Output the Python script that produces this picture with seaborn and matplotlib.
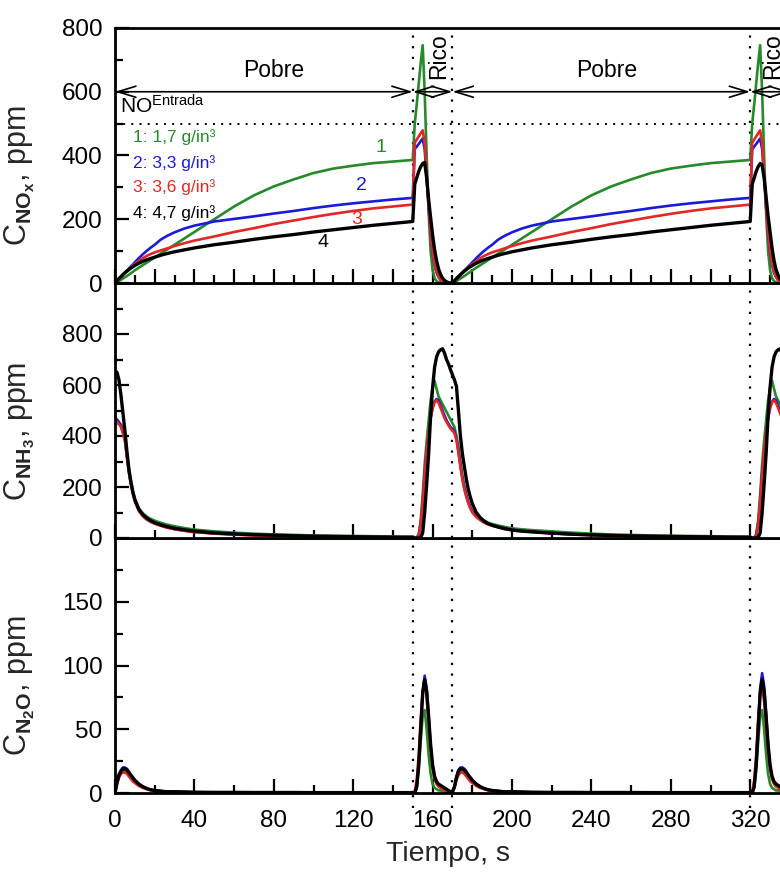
import numpy as np
import pandas as pd
import matplotlib
matplotlib.use("Agg")
import matplotlib.pyplot as plt
import seaborn as sns
from matplotlib.ticker import MultipleLocator, FixedLocator

# ---------------- data ----------------
tiempo = [0, 1, 2, 3, 4, 5, 6, 7, 8, 9, 10, 12, 14, 16, 18, 20, 23, 26, 30, 35, 40,
          50, 60, 70, 80, 90, 100, 110, 120, 130, 140, 150,
          151, 152, 153, 154, 155, 156, 157, 158, 159, 160, 161, 162, 163, 164, 165, 166, 167, 168, 169,
          170, 171, 172, 173, 174, 175, 176, 177, 178, 179, 180, 182, 184, 186, 188, 190, 193, 196, 200, 205, 210,
          220, 230, 240, 250, 260, 270, 280, 290, 300, 310, 320,
          321, 322, 323, 324, 325, 326, 327, 328, 329, 330, 331, 332, 333, 334, 335, 336]

cargas = ["1", "2", "3", "4"]
etiquetas = ["1: 1,7 g/in³", "2: 3,3 g/in³", "3: 3,6 g/in³", "4: 4,7 g/in³"]

# NOx, ppm
nox_1 = [0, 3, 6, 10, 14, 18, 22, 26, 31, 35, 40, 48, 56, 64, 72, 80, 92, 104, 120, 140, 160,
         200, 240, 275, 303, 325, 345, 359, 368, 376, 381, 386,
         500, 560, 625, 690, 746, 600, 400, 220, 100, 40, 15, 6, 2, 1, 0, 0, 0, 0, 0,
         0, 3, 6, 10, 14, 18, 22, 26, 31, 35, 40, 48, 56, 64, 72, 80, 92, 104, 120, 140, 160,
         200, 240, 275, 303, 325, 345, 359, 368, 376, 381, 386,
         500, 560, 625, 690, 746, 600, 400, 220, 100, 40, 15, 6, 2, 1, 0, 0]
nox_2 = [0, 7, 14, 20, 27, 33, 39, 45, 52, 58, 65, 78, 90, 101, 111, 120, 136, 147, 159, 171, 180,
         193, 201, 209, 218, 226, 235, 243, 250, 256, 262, 267,
         420, 428, 436, 445, 453, 420, 330, 235, 155, 95, 55, 32, 18, 9, 4, 2, 1, 0, 0,
         0, 7, 14, 20, 27, 33, 39, 45, 52, 58, 65, 78, 90, 101, 111, 120, 136, 147, 159, 171, 180,
         193, 201, 209, 218, 226, 235, 243, 250, 256, 262, 267,
         420, 428, 436, 445, 453, 420, 330, 235, 155, 95, 55, 32, 18, 9, 4, 2]
nox_3 = [0, 6, 13, 19, 26, 32, 38, 44, 49, 55, 60, 69, 78, 85, 91, 96, 102, 108, 116, 125, 133,
         146, 160, 172, 185, 196, 207, 217, 226, 234, 240, 246,
         440, 450, 460, 470, 479, 440, 340, 240, 160, 100, 60, 35, 20, 10, 5, 2, 1, 0, 0,
         0, 6, 13, 19, 26, 32, 38, 44, 49, 55, 60, 69, 78, 85, 91, 96, 102, 108, 116, 125, 133,
         146, 160, 172, 185, 196, 207, 217, 226, 234, 240, 246,
         440, 450, 460, 470, 479, 440, 340, 240, 160, 100, 60, 35, 20, 10, 5, 2]
nox_4 = [0, 7, 14, 20, 26, 32, 37, 42, 47, 51, 55, 62, 68, 73, 77, 81, 87, 92, 98, 104, 110,
         120, 128, 137, 145, 152, 160, 167, 174, 181, 187, 193,
         310, 330, 350, 365, 375, 378, 330, 262, 205, 150, 105, 70, 44, 27, 15, 8, 4, 1, 0,
         0, 7, 14, 20, 26, 32, 37, 42, 47, 51, 55, 62, 68, 73, 77, 81, 87, 92, 98, 104, 110,
         120, 128, 137, 145, 152, 160, 167, 174, 181, 187, 193,
         310, 330, 350, 365, 375, 369, 330, 270, 210, 160, 110, 70, 42, 25, 13, 7]

# NH3, ppm
nh3_1 = [450, 450, 449, 446, 420, 396, 330, 270, 225, 185, 155, 118, 97, 84, 75, 68, 60, 53, 46, 39, 33,
         26, 21, 17, 14, 12, 10, 9, 8, 7, 6, 5,
         0, 2, 15, 70, 170, 290, 380, 460, 540, 590, 617, 585, 555, 540, 525, 510, 495, 480, 465,
         450, 435, 400, 360, 300, 245, 205, 170, 140, 120, 105, 88, 77, 68, 60, 55, 49, 44, 38, 34, 31,
         26, 21, 17, 14, 12, 10, 9, 8, 7, 6, 5,
         0, 2, 15, 70, 170, 290, 380, 460, 540, 590, 617, 585, 555, 540, 525, 510]
nh3_2 = [470, 465, 455, 440, 415, 385, 320, 260, 215, 178, 148, 110, 88, 74, 64, 57, 49, 42, 35, 29, 24,
         18, 14, 11, 9, 7, 6, 5, 4, 3, 3, 2,
         0, 1, 10, 55, 140, 250, 340, 410, 470, 510, 535, 545, 539, 520, 500, 480, 462, 448, 435,
         428, 418, 390, 340, 285, 235, 195, 165, 140, 120, 104, 85, 72, 62, 55, 50, 44, 38, 33, 28, 25,
         19, 15, 12, 10, 8, 7, 6, 5, 4, 3, 3,
         0, 1, 10, 55, 140, 250, 340, 410, 470, 510, 535, 545, 539, 520, 500, 480]
nh3_3 = [460, 455, 447, 435, 410, 380, 315, 255, 210, 172, 143, 106, 85, 72, 63, 56, 48, 41, 34, 28, 23,
         17, 13, 10, 8, 6, 5, 4, 3, 3, 2, 2,
         0, 1, 10, 55, 140, 250, 340, 410, 470, 510, 532, 540, 530, 510, 490, 470, 455, 442, 430,
         422, 410, 385, 335, 280, 230, 190, 160, 136, 116, 100, 82, 70, 60, 53, 48, 42, 36, 31, 27, 24,
         18, 14, 11, 9, 7, 6, 5, 4, 4, 3, 3,
         0, 1, 10, 55, 140, 250, 340, 410, 470, 510, 532, 540, 530, 510, 490, 470]
nh3_4 = [655, 650, 620, 560, 490, 420, 340, 270, 220, 180, 150, 112, 92, 78, 68, 60, 52, 45, 38, 32, 27,
         20, 16, 13, 11, 9, 7, 6, 5, 4, 3, 3,
         0, 0, 0, 2, 20, 100, 210, 330, 480, 590, 670, 710, 730, 738, 742, 725, 700, 683, 660,
         640, 620, 595, 500, 400, 330, 280, 230, 190, 160, 135, 100, 80, 66, 56, 50, 43, 37, 31, 27, 24,
         19, 15, 12, 10, 8, 7, 6, 5, 4, 3, 3,
         0, 0, 0, 2, 20, 100, 210, 330, 480, 590, 670, 710, 730, 738, 742, 725]

# N2O, ppm
n2o_1 = [0, 8, 13, 16, 17, 17, 16, 14, 12, 10, 8, 6, 4.5, 3.5, 2.5, 2, 1.5, 1, 1, 0.8, 0.6,
         0.5, 0.5, 0.4, 0.4, 0.4, 0.3, 0.3, 0.3, 0.3, 0.3, 0.3,
         0, 4, 18, 40, 60, 65, 50, 30, 15, 7, 4, 3, 2, 2, 1.5, 1, 1, 1, 0.5,
         0.5, 4, 11, 15, 17, 17, 16, 14, 12, 10, 8, 6, 4.5, 3.5, 2.5, 2, 1.5, 1, 1, 0.8, 0.6,
         0.5, 0.5, 0.4, 0.4, 0.4, 0.3, 0.3, 0.3, 0.3, 0.3, 0.3,
         0, 4, 18, 40, 60, 65, 50, 30, 15, 7, 4, 3, 2, 2, 1.5, 1]
n2o_2 = [0, 9, 15, 18, 20, 20, 19, 17, 14, 12, 10, 7, 5, 3.5, 2.5, 2, 1.5, 1, 1, 0.8, 0.6,
         0.5, 0.5, 0.4, 0.4, 0.4, 0.3, 0.3, 0.3, 0.3, 0.3, 0.3,
         0, 5, 23, 52, 80, 92, 82, 60, 37, 21, 12, 8, 6, 5, 4, 3, 2, 1.5, 1,
         1, 5, 13, 18, 20, 20, 19, 17, 14, 12, 10, 7, 5, 3.5, 2.5, 2, 1.5, 1, 1, 0.8, 0.6,
         0.5, 0.5, 0.4, 0.4, 0.4, 0.3, 0.3, 0.3, 0.3, 0.3, 0.3,
         0, 5, 23, 54, 82, 94, 84, 62, 38, 21, 12, 8, 6, 5, 4, 3]
n2o_3 = [0, 7, 12, 15, 16, 16, 15, 13, 11, 9, 8, 5.5, 4, 3, 2, 1.5, 1, 0.8, 0.6, 0.5, 0.4,
         0.4, 0.3, 0.3, 0.3, 0.3, 0.2, 0.2, 0.2, 0.2, 0.2, 0.2,
         1, 10, 30, 58, 80, 85, 75, 54, 33, 19, 11, 7, 5, 4, 3, 2.5, 2, 1.5, 1,
         1, 4, 10, 14, 16, 16, 15, 13, 11, 9, 8, 5.5, 4, 3, 2, 1.5, 1, 0.8, 0.6, 0.5, 0.4,
         0.4, 0.3, 0.3, 0.3, 0.3, 0.2, 0.2, 0.2, 0.2, 0.2, 0.2,
         1, 10, 30, 58, 78, 82, 72, 52, 32, 19, 11, 7, 5, 4, 3, 2.5]
n2o_4 = [0, 8, 14, 17, 19, 19, 18, 16, 14, 12, 10, 7, 5, 3.5, 2.5, 2, 1.5, 1, 1, 0.8, 0.6,
         0.5, 0.5, 0.4, 0.4, 0.4, 0.3, 0.3, 0.3, 0.3, 0.3, 0.3,
         0, 5, 22, 50, 78, 89, 80, 60, 38, 22, 13, 9, 7, 6, 5, 4, 3, 2, 1,
         1, 5, 12, 17, 19, 19, 18, 16, 14, 12, 10, 7, 5, 3.5, 2.5, 2, 1.5, 1, 1, 0.8, 0.6,
         0.5, 0.5, 0.4, 0.4, 0.4, 0.3, 0.3, 0.3, 0.3, 0.3, 0.3,
         0, 5, 22, 50, 78, 89, 80, 60, 38, 22, 13, 9, 7, 6, 5, 4]

# phases
limites = [0, 150, 170, 320, 340]
fases = ["Pobre", "Rico", "Pobre", "Rico"]
no_entrada = 500

# ---------------- style ----------------
sns.set_theme(style="white")
plt.rcParams["font.family"] = ["Liberation Sans", "DejaVu Sans"]
plt.rcParams["mathtext.fontset"] = "custom"
plt.rcParams["mathtext.rm"] = "Liberation Sans"
plt.rcParams["mathtext.it"] = "Liberation Sans:italic"
plt.rcParams["mathtext.bf"] = "Liberation Sans:bold"
plt.rcParams["axes.linewidth"] = 2.0
plt.rcParams["axes.edgecolor"] = "black"
plt.rcParams["text.color"] = "black"
plt.rcParams["xtick.color"] = "black"
plt.rcParams["ytick.color"] = "black"

colores = {"1": "#268a2b", "2": "#1a1adb", "3": "#e32626", "4": "#000000"}
grosores = {"1": 1.9, "2": 1.9, "3": 1.9, "4": 2.4}

filas = []
series = {"NOx": [nox_1, nox_2, nox_3, nox_4],
          "NH3": [nh3_1, nh3_2, nh3_3, nh3_4],
          "N2O": [n2o_1, n2o_2, n2o_3, n2o_4]}
for i, c in enumerate(cargas):
    filas.append(pd.DataFrame({"Tiempo": tiempo,
                               "NOx": series["NOx"][i],
                               "NH3": series["NH3"][i],
                               "N2O": series["N2O"][i],
                               "Carga": c}))
df = pd.concat(filas, ignore_index=True)

W, H = 780, 873
fig = plt.figure(figsize=(W / 100, H / 100), dpi=100)
left = 115 / W
width = 1.0 - left
hpan = 255 / H
bot = 80 / H
ax3 = fig.add_axes([left, bot, width, hpan])
ax2 = fig.add_axes([left, bot + hpan, width, hpan])
ax1 = fig.add_axes([left, bot + 2 * hpan, width, hpan])

configs = [
    (ax1, "NOx", (0, 800), [0, 200, 400, 600, 800], 100, 20, 10, r"C$_{\mathbf{NO_x}}$, ppm"),
    (ax2, "NH3", (0, 1000), [0, 200, 400, 600, 800], 100, 40, 20, r"C$_{\mathbf{NH_3}}$, ppm"),
    (ax3, "N2O", (0, 200), [0, 50, 100, 150], 25, 40, 20, r"C$_{\mathbf{N_2O}}$, ppm"),
]

for ax, col, ylim, yt, ymin_, xmaj, xmin_, ylab in configs:
    # phase boundaries (dotted)
    for xb in limites[1:-1]:
        ax.axvline(xb, color="black", lw=1.6, linestyle=(0, (1, 3.8)), zorder=1)
    sns.lineplot(data=df, x="Tiempo", y=col, hue="Carga", hue_order=cargas,
                 palette=colores, size="Carga", sizes=grosores, size_order=cargas,
                 estimator=None, sort=False, legend=False, ax=ax, zorder=3)
    ax.set_xlim(0, 335)
    ax.set_ylim(*ylim)
    ax.yaxis.set_major_locator(FixedLocator(yt))
    ax.yaxis.set_minor_locator(MultipleLocator(ymin_))
    ax.xaxis.set_major_locator(MultipleLocator(xmaj))
    ax.xaxis.set_minor_locator(MultipleLocator(xmin_))
    ax.tick_params(which="both", direction="in", bottom=True, left=True, top=False, right=False,
                   width=1.6, labelsize=17.5, pad=9)
    ax.tick_params(which="major", length=10)
    ax.tick_params(which="minor", length=6)
    ax.spines["right"].set_visible(False)
    ax.set_ylabel(ylab, fontsize=22)
    ax.yaxis.set_label_coords(-0.118, 0.42)
    ax.set_xlabel("")
    for s in ax.spines.values():
        s.set_zorder(5)

ax1.tick_params(labelbottom=False)
ax2.tick_params(labelbottom=False)
ax3.set_xticks([0, 40, 80, 120, 160, 200, 240, 280, 320])
ax3.tick_params(axis="x", pad=12)
ax3.set_xlabel("Tiempo, s", fontsize=20.5, labelpad=7)

# dotted boundary extension below the bottom axis
ax3.vlines(limites[1:-1], -0.06, 0, transform=ax3.get_xaxis_transform(), clip_on=False,
           color="black", lw=1.6, linestyle=(0, (1, 3.8)))

# NO inlet level
ax1.axhline(no_entrada, color="black", lw=1.4, linestyle=(0, (1, 3.2)), zorder=1)
ax1.text(2.5, 532, r"NO$^{\mathrm{Entrada}}$", fontsize=15, ha="left", va="baseline")

# phase arrows and labels
fase_x = [80, 163, 247.5, 331.5]
for i, nombre in enumerate(fases):
    ax1.annotate("", xy=(limites[i], 600), xytext=(limites[i + 1], 600),
                 xycoords="data", annotation_clip=False,
                 arrowprops=dict(arrowstyle="<->,head_length=1.3,head_width=0.4",
                                 mutation_scale=10, lw=1.2, color="black",
                                 shrinkA=0, shrinkB=0))
    if nombre == "Pobre":
        ax1.text(fase_x[i], 668, nombre, fontsize=16.5, ha="center", va="center")
    else:
        ax1.text(fase_x[i], 712, nombre, fontsize=16.5, ha="center", va="center",
                 rotation=90)

# legend-like labels
leg_y = [441, 362, 284, 205]
for c, lab, yy in zip(cargas, etiquetas, leg_y):
    ax1.text(9, yy, lab, color=colores[c], fontsize=12.5, ha="left", va="baseline")

# curve numbers
num_pos = {"1": (134, 425), "2": (124, 305), "3": (121.5, 200), "4": (105, 126)}
for c in cargas:
    ax1.text(num_pos[c][0], num_pos[c][1], c, color=colores[c], fontsize=14,
             ha="center", va="center")

fig.savefig("out.png", dpi=100)
